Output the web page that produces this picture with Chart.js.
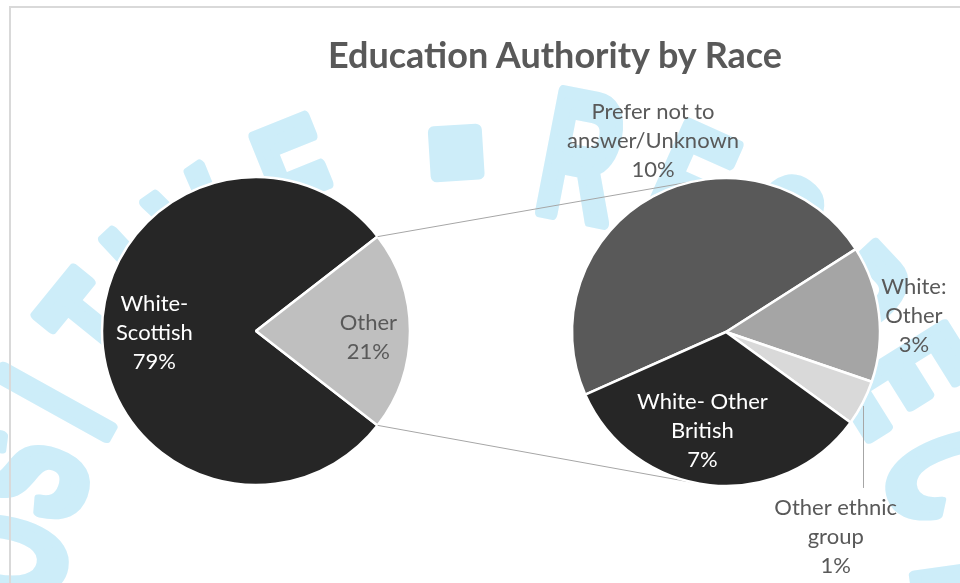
<!DOCTYPE html>
<html>
<head>
<meta charset="utf-8">
<script src="https://cdn.jsdelivr.net/npm/chart.js@4.4.1/dist/chart.umd.min.js"></script>
<style>
  body { margin: 0; background: #fff; }
  #wrap { position: relative; width: 960px; height: 583px; overflow: hidden; background: #fff; }
  #wrap canvas { position: absolute; left: 0; top: 0; }
  #frame { position: absolute; left: 9px; top: 6px; width: 1000px; height: 700px;
           border-top: 2px solid #d9d9d9; border-left: 2px solid #d9d9d9; }
  #title { position: absolute; left: 555px; top: 34px; transform: translateX(-50%);
           margin: 0; white-space: nowrap; font: bold 36px/40px Lato, sans-serif; color: #595959; }
</style>
</head>
<body>
<div id="wrap">
  <canvas id="mainPie" width="960" height="583"></canvas>
  <canvas id="otherPie" width="960" height="583"></canvas>
  <div id="frame"></div>
  <h1 id="title">Education Authority by Race</h1>
</div>
<script>
// main pie
var mainLabels = ['White-Scottish', 'Other'];
var mainValues = [79, 21];
var mainColors = ['#262626', '#bfbfbf'];

// break-down of "Other"
var otherLabels = ['Prefer not to answer/Unknown', 'White: Other', 'Other ethnic group', 'White- Other British'];
var otherValues = [10, 3, 1, 7];
var otherColors = ['#595959', '#a5a5a5', '#d9d9d9', '#262626'];

// how the labels wrap, like excel does it
var wrapped = {
  'White-Scottish': ['White-', 'Scottish'],
  'Other': ['Other'],
  'Prefer not to answer/Unknown': ['Prefer not to', 'answer/Unknown'],
  'White: Other': ['White:', 'Other'],
  'Other ethnic group': ['Other ethnic', 'group'],
  'White- Other British': ['White- Other', 'British']
};

var LINE_H = 29;

var sliceLabels = {
  id: 'sliceLabels',
  afterDatasetsDraw: function (chart, args, opts) {
    var ctx = chart.ctx;
    var meta = chart.getDatasetMeta(0);
    var values = chart.data.datasets[0].data;
    ctx.save();
    ctx.font = '22px Lato';
    ctx.textAlign = 'center';
    ctx.textBaseline = 'middle';
    meta.data.forEach(function (arc, i) {
      var p = arc.getProps(['x', 'y', 'startAngle', 'endAngle', 'outerRadius'], true);
      var mid = (p.startAngle + p.endAngle) / 2;
      var s = opts.place[i];
      var ex = p.x + Math.cos(mid) * p.outerRadius * s.r;
      var ey = p.y + Math.sin(mid) * p.outerRadius * s.r;
      var lines = wrapped[chart.data.labels[i]].concat(values[i] + '%');
      var cx = ex + s.dx, cy = ey + s.dy;
      var top = cy - (lines.length - 1) / 2 * LINE_H;
      if (s.leader) {
        ctx.strokeStyle = '#a6a6a6';
        ctx.lineWidth = 1;
        ctx.beginPath();
        ctx.moveTo(Math.round(ex) + 0.5, ey + 3);
        ctx.lineTo(Math.round(ex) + 0.5, top - 20);
        ctx.stroke();
      }
      ctx.fillStyle = s.color;
      lines.forEach(function (t, k) {
        ctx.fillText(t, cx, top + k * LINE_H);
      });
    });
    ctx.restore();
  }
};

// faint logo letters behind the chart
var watermark = {
  id: 'watermark',
  beforeDraw: function (chart) {
    var ctx = chart.ctx;
    var letters = ['P', 'O', 'S', 'I', 'T', 'I', 'V', 'E', '•', 'R', 'E', 'S', 'P', 'E', 'C', 'T'];
    var angles = [-181, -170, -160, -151, -141, -133, -124.5, -112, -93.6, -79, -66, -55, -43, -32, -20, -8];
    ctx.save();
    ctx.fillStyle = '#cdedf9';
    ctx.strokeStyle = '#cdedf9';
    ctx.lineJoin = 'round';
    ctx.font = 'bold 178px "Liberation Sans"';
    ctx.textAlign = 'center';
    ctx.textBaseline = 'middle';
    letters.forEach(function (ch, i) {
      var a = angles[i] * Math.PI / 180;
      ctx.save();
      ctx.translate(487 + 490 * Math.cos(a), 642 + 490 * Math.sin(a));
      ctx.rotate(a + Math.PI / 2);
      if (ch === '•') {
        ctx.beginPath();
        ctx.roundRect(-27, -28, 54, 56, 6);
        ctx.fill();
      } else {
        ctx.scale(0.6, 1);
        ctx.lineWidth = 12;
        ctx.fillText(ch, 0, 8);
        ctx.strokeText(ch, 0, 8);
      }
      ctx.restore();
    });
    ctx.restore();
  }
};

var mainChart = new Chart(document.getElementById('mainPie'), {
  type: 'pie',
  data: {
    labels: mainLabels,
    datasets: [{
      data: mainValues,
      backgroundColor: mainColors,
      borderColor: '#ffffff',
      borderWidth: 2.5
    }]
  },
  options: {
    responsive: false,
    animation: false,
    events: [],
    radius: 154,
    // "Other" sits centred on the right-hand side
    rotation: 90 + mainValues[1] / (mainValues[0] + mainValues[1]) * 180,
    layout: { padding: { left: 86, right: 534, top: 161, bottom: 82 } },
    plugins: {
      legend: { display: false },
      tooltip: { enabled: false },
      sliceLabels: {
        place: [
          { r: 0.66, dx: 0, dy: 2, color: '#ffffff' },
          { r: 0.73, dx: 0, dy: 6, color: '#595959' }
        ]
      }
    }
  },
  plugins: [watermark, sliceLabels]
});

// lines from the "Other" slice to the second pie
var connectors = {
  id: 'connectors',
  beforeDatasetsDraw: function (chart) {
    var src = mainChart.getDatasetMeta(0).data[mainLabels.indexOf('Other')];
    var a = src.getProps(['x', 'y', 'startAngle', 'endAngle', 'outerRadius'], true);
    var c = chart.getDatasetMeta(0).data[0].getProps(['x', 'y', 'outerRadius'], true);
    var ends = [a.startAngle, a.endAngle].map(function (t) {
      return { x: a.x + Math.cos(t) * a.outerRadius, y: a.y + Math.sin(t) * a.outerRadius };
    }).sort(function (p, q) { return p.y - q.y; });
    var ctx = chart.ctx;
    ctx.save();
    ctx.strokeStyle = '#a6a6a6';
    ctx.lineWidth = 1;
    ends.forEach(function (p, k) {
      var d = Math.hypot(p.x - c.x, p.y - c.y);
      var phi = Math.atan2(p.y - c.y, p.x - c.x);
      var al = Math.acos(c.outerRadius / d);
      var t1 = { x: c.x + Math.cos(phi + al) * c.outerRadius, y: c.y + Math.sin(phi + al) * c.outerRadius };
      var t2 = { x: c.x + Math.cos(phi - al) * c.outerRadius, y: c.y + Math.sin(phi - al) * c.outerRadius };
      var t = k === 0 ? (t1.y < t2.y ? t1 : t2) : (t1.y > t2.y ? t1 : t2);
      ctx.beginPath();
      ctx.moveTo(p.x, p.y);
      ctx.lineTo(t.x, t.y);
      ctx.stroke();
    });
    ctx.restore();
  }
};

var otherChart = new Chart(document.getElementById('otherPie'), {
  type: 'pie',
  data: {
    labels: otherLabels,
    datasets: [{
      data: otherValues,
      backgroundColor: otherColors,
      borderColor: '#ffffff',
      borderWidth: 2.5
    }]
  },
  options: {
    responsive: false,
    animation: false,
    events: [],
    radius: 154,
    rotation: 246,
    layout: { padding: { left: 556, right: 64, top: 162, bottom: 81 } },
    plugins: {
      legend: { display: false },
      tooltip: { enabled: false },
      sliceLabels: {
        place: [
          { r: 1, dx: 0, dy: -55, color: '#595959' },
          { r: 1, dx: 35, dy: 2, color: '#595959' },
          { r: 1, dx: -27, dy: 134, color: '#595959', leader: true },
          { r: 0.66, dx: -13, dy: -2, color: '#ffffff' }
        ]
      }
    }
  },
  plugins: [connectors, sliceLabels]
});
</script>
</body>
</html>
